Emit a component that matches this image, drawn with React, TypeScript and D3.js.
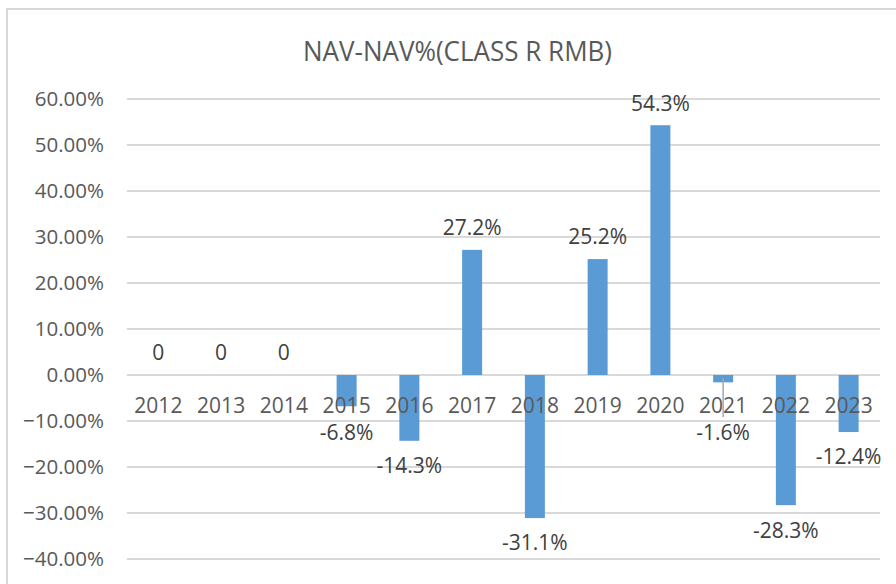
import React, { useEffect, useRef } from 'react';
import * as d3 from 'd3';

const years = ['2012', '2013', '2014', '2015', '2016', '2017', '2018', '2019', '2020', '2021', '2022', '2023'];
const navPct = [0, 0, 0, -6.8, -14.3, 27.2, -31.1, 25.2, 54.3, -1.6, -28.3, -12.4];
const yTicks = [60, 50, 40, 30, 20, 10, 0, -10, -20, -30, -40];

const W = 896;
const H = 584;

const App = () => {
  const svgRef = useRef<SVGSVGElement | null>(null);

  useEffect(() => {
    document.body.style.margin = '0';
    if (!svgRef.current) return;
    const svg = d3.select(svgRef.current);
    svg.selectAll('*').remove();

    const font = "'Open Sans', 'Noto Sans', sans-serif";
    const plot = { left: 127, right: 880, top: 99, bottom: 559 };

    // chart frame (runs off the right / bottom edge like the original)
    svg.append('rect')
      .attr('x', 7).attr('y', 9)
      .attr('width', W + 20).attr('height', H + 20)
      .attr('fill', '#fff')
      .attr('stroke', '#d9d9d9')
      .attr('stroke-width', 2);

    svg.append('text')
      .attr('x', 457.5).attr('y', 61)
      .attr('text-anchor', 'middle')
      .attr('font-family', font)
      .attr('font-size', 28)
      .attr('fill', '#595959')
      .attr('textLength', 309)
      .attr('lengthAdjust', 'spacingAndGlyphs')
      .text('NAV-NAV%(CLASS R RMB)');

    const x = d3.scaleBand<string>().domain(years).range([plot.left, plot.right]);
    const y = d3.scaleLinear().domain([-40, 60]).range([plot.bottom, plot.top]);

    // gridlines
    svg.append('g')
      .selectAll('line')
      .data(yTicks)
      .join('line')
      .attr('x1', plot.left).attr('x2', plot.right)
      .attr('y1', d => y(d)).attr('y2', d => y(d))
      .attr('stroke', '#d9d9d9')
      .attr('stroke-width', 2);

    // y tick labels
    svg.append('g')
      .selectAll('text')
      .data(yTicks)
      .join('text')
      .attr('x', 104)
      .attr('y', d => y(d))
      .attr('dy', '0.35em')
      .attr('text-anchor', 'end')
      .attr('font-family', font)
      .attr('font-size', 20.5)
      .attr('fill', '#595959')
      .text(d => d3.format('.2f')(d) + '%');

    const bw = 20;
    const y0 = y(0);
    const cx = (d: string) => (x(d) || 0) + x.bandwidth() / 2;

    // bars
    svg.append('g')
      .selectAll('rect')
      .data(navPct)
      .join('rect')
      .attr('x', (d, i) => cx(years[i]) - bw / 2)
      .attr('y', d => Math.min(y(d), y0))
      .attr('width', bw)
      .attr('height', d => Math.abs(y(d) - y0))
      .attr('fill', '#5b9bd5');

    // category labels sit just under the zero line
    svg.append('g')
      .selectAll('text')
      .data(years)
      .join('text')
      .attr('x', d => cx(d))
      .attr('y', y0 + 31)
      .attr('dy', '0.35em')
      .attr('text-anchor', 'middle')
      .attr('font-family', font)
      .attr('font-size', 21)
      .attr('fill', '#595959')
      .text(d => d);

    // data labels
    const labelY = (d: number) => {
      if (d >= 0) return y(d) - 22;
      return Math.max(y(d) + 25, y0 + 58);
    };
    const labels = svg.append('g');
    navPct.forEach((d, i) => {
      const ly = labelY(d);
      if (d < 0 && y(d) + 25 < y0 + 40) {
        // leader line when the label got pushed below the axis labels
        labels.append('line')
          .attr('x1', cx(years[i])).attr('x2', cx(years[i]))
          .attr('y1', y(d) - 4).attr('y2', ly - 16)
          .attr('stroke', '#a6a6a6')
          .attr('stroke-width', 1.5);
      }
      labels.append('text')
        .attr('x', cx(years[i]))
        .attr('y', ly)
        .attr('dy', '0.35em')
        .attr('text-anchor', 'middle')
        .attr('font-family', font)
        .attr('font-size', 21)
        .attr('fill', '#404040')
        .text(d === 0 ? '0' : d.toFixed(1) + '%');
    });
  }, []);

  return <svg ref={svgRef} width={W} height={H} style={{ display: 'block' }} />;
};

export default App;
